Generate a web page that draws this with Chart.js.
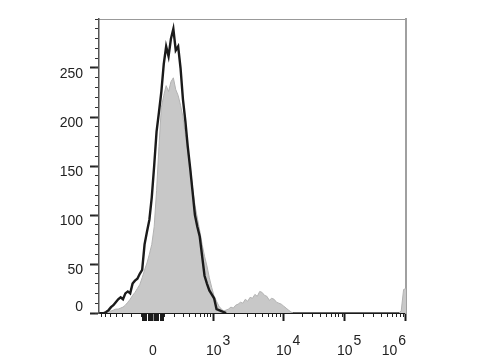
<!DOCTYPE html>
<html><head><meta charset="utf-8">
<script src="https://cdn.jsdelivr.net/npm/chart.js@4"></script>
<style>html,body{margin:0;padding:0;background:#fff}canvas{display:block}</style>
</head><body>
<canvas id="c" width="480" height="360"></canvas>
<script>
// ---- data (histogram counts per display channel) ----
const stainedStart = 2;
const stainedCounts = [0,1,3,6,8,11,14,16,14,20,22,20,30,33,35,40,44,70,83,95,118,150,185,205,226,254,272,262,280,290,268,272,250,218,196,170,148,124,100,88,78,58,38,30,23,19,15,4,3,2,1,0];
const controlStart = 2;
const controlCounts = [0,1,2,2,3,4,4,5,6,8,11,14,18,21,25,29,36,44,51,60,70,88,125,170,210,222,232,226,236,240,228,222,212,200,182,165,150,128,110,97,84,70,58,48,36,26,17,12,7,4,2,3,4,6,5,8,9,11,10,14,12,16,15,19,17,22,21,18,17,13,15,14,11,10,9,7,5,3,1,0];
const controlEdgeStart = 125;
const controlEdgeCounts = [0,2,24,25];

// ---- axis ticks ----
const xMajorValues = [0, 1e3, 1e4, 1e5, 1e6];
const xMajorBase = ['0','10','10','10','10'];
const xMajorExp = ['','3','4','5','6'];
const xClusterValues = [-90,-80,-70,-60,-50,-40,-30,-20,-10,10,20,30,40,50,60,70,80,90];
const xMinorValues = [-900,-800,-700,-600,-500,-400,-300,-200,-100,
  100,200,300,400,500,600,700,800,900,
  2e3,3e3,4e3,5e3,6e3,7e3,8e3,9e3,
  2e4,3e4,4e4,5e4,6e4,7e4,8e4,9e4,
  2e5,3e5,4e5,5e5,6e5,7e5,8e5,9e5];
const yMajorTicks = [0,50,100,150,200,250];
const X_MAX = 128, Y_MAX = 300;

// biexponential display transform: value -> channel
const BIEX = {zero: 22.5, k: 11.646, c: 230, lin: 1000, dec1: 29.17, dec: 25.48};
function chan(v){
  const a = Math.abs(v), s = Math.sign(v);
  if (a <= BIEX.lin) return BIEX.zero + s * BIEX.k * Math.asinh(a / BIEX.c);
  const base = BIEX.zero + BIEX.k * Math.asinh(BIEX.lin / BIEX.c);
  const d = Math.log10(a / BIEX.lin);
  return base + BIEX.dec1 * Math.min(d, 1) + BIEX.dec * Math.max(d - 1, 0);
}
const inRange = t => t.value >= 0 && t.value <= X_MAX + 1e-6;

const stainedData = stainedCounts.map((y, i) => ({x: stainedStart + i, y}));
const controlData = controlCounts.map((y, i) => ({x: controlStart + i, y}))
  .concat(controlEdgeCounts.map((y, i) => ({x: controlEdgeStart + i, y})));

const FONT = '"Liberation Sans", Arial, Helvetica, sans-serif';
const majorSet = new Set(xMajorValues.map(chan));

const xLabelPlugin = {
  id: 'xLabels',
  afterDraw(chart){
    const ctx = chart.ctx, xs = chart.scales.x, area = chart.chartArea;
    ctx.save();
    ctx.font = '14px ' + FONT;
    ctx.fillStyle = '#222';
    ctx.textBaseline = 'alphabetic';
    ctx.textAlign = 'left';
    xMajorValues.forEach((v, i) => {
      const px = xs.getPixelForValue(chan(v));
      const b = xMajorBase[i], e = xMajorExp[i];
      const wb = ctx.measureText(b).width;
      const we = e ? ctx.measureText(e).width + 1 : 0;
      let x0 = px - wb / 2;
      if (x0 + wb + we > area.right) x0 = area.right - wb - we;
      ctx.fillText(b, x0, area.bottom + 41.5);
      if (e) ctx.fillText(e, x0 + wb + 1, area.bottom + 32);
    });
    ctx.restore();
  }
};

new Chart(document.getElementById('c'), {
  type: 'line',
  data: {
    datasets: [
      {label: 'Stained', data: stainedData, borderColor: '#1a1a1a', borderWidth: 2.4,
       pointRadius: 0, fill: false, tension: 0},
      {label: 'Control', data: controlData, borderColor: '#b2b2b2', borderWidth: 1,
       backgroundColor: '#c8c8c8', fill: 'origin', pointRadius: 0, tension: 0}
    ]
  },
  options: {
    responsive: false,
    animation: false,
    devicePixelRatio: 1,
    layout: {padding: 0},
    plugins: {legend: {display: false}, tooltip: {enabled: false}},
    scales: {
      x: {
        type: 'linear', axis: 'x', position: 'bottom', min: 0, max: X_MAX,
        afterBuildTicks: s => { s.ticks = xMajorValues.concat(xClusterValues).map(v => ({value: chan(v)})).filter(inRange); },
        afterFit: s => { s.height = 47; },
        ticks: {display: false},
        grid: {drawOnChartArea: false, drawTicks: true, tickLength: 8,
               tickWidth: c => (c.tick && majorSet.has(c.tick.value)) ? 2 : 1,
               tickColor: '#1a1a1a'},
        border: {display: true, color: '#1a1a1a', width: 2}
      },
      xMinor: {
        type: 'linear', axis: 'x', position: {y: 0}, min: 0, max: X_MAX,
        afterBuildTicks: s => { s.ticks = xMinorValues.map(v => ({value: chan(v)})).filter(inRange); },
        ticks: {display: false},
        grid: {drawOnChartArea: false, drawTicks: true, tickLength: 4, tickWidth: 1, tickColor: '#222'},
        border: {display: false}
      },
      xTop: {
        type: 'linear', axis: 'x', position: 'top', min: 0, max: X_MAX,
        afterFit: s => { s.height = 6; },
        ticks: {display: false},
        grid: {drawOnChartArea: false, drawTicks: false},
        border: {display: true, color: '#999', width: 1}
      },
      y: {
        type: 'linear', axis: 'y', position: 'left', min: 0, max: Y_MAX,
        afterBuildTicks: s => { s.ticks = yMajorTicks.map(v => ({value: v})); },
        afterFit: s => { s.width = 99; },
        ticks: {padding: 7, color: '#222', font: {family: FONT, size: 14, lineHeight: '12px'},
                callback: v => v === 0 ? ['0', ''] : ['', String(v)]},
        grid: {drawOnChartArea: false, drawTicks: true, tickLength: 9, tickWidth: 2, tickColor: '#222'},
        border: {display: true, color: '#555', width: 1.5}
      },
      yMinor: {
        type: 'linear', axis: 'y', position: {x: 0}, min: 0, max: Y_MAX,
        ticks: {display: false, stepSize: 10},
        grid: {drawOnChartArea: false, drawTicks: true, tickLength: 4, tickWidth: 1, tickColor: '#333'},
        border: {display: false}
      },
      yRight: {
        type: 'linear', axis: 'y', position: 'right', min: 0, max: Y_MAX,
        afterFit: s => { s.width = 74; },
        ticks: {display: false},
        grid: {drawOnChartArea: false, drawTicks: false},
        border: {display: true, color: '#a0a0a0', width: 2}
      }
    }
  },
  plugins: [xLabelPlugin]
});
</script>
</body></html>
